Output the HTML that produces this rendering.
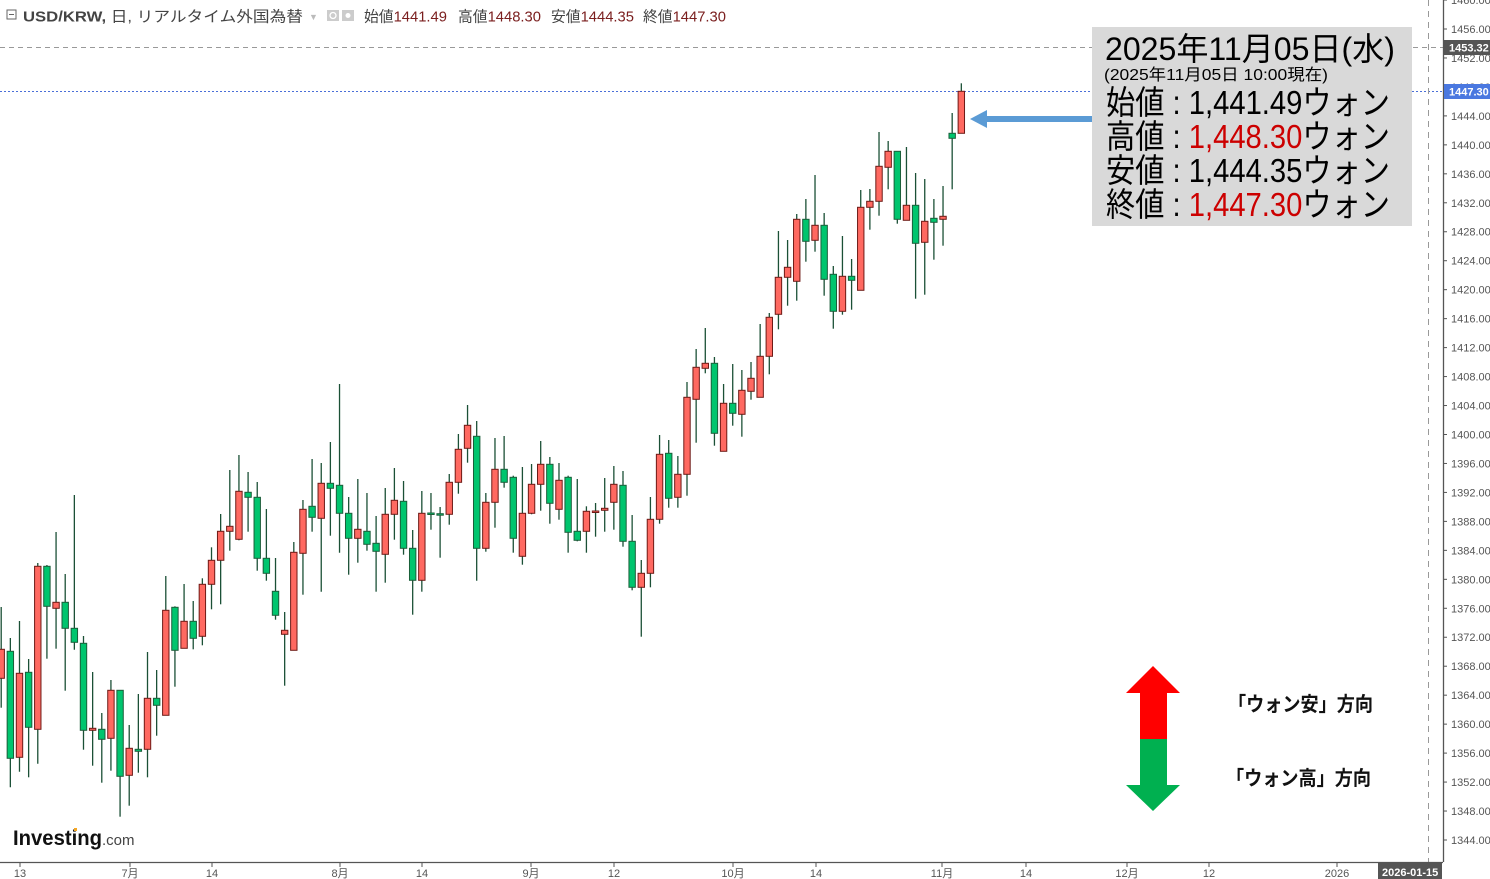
<!DOCTYPE html>
<html><head><meta charset="utf-8">
<style>
html,body{margin:0;padding:0;background:#fff;}
svg{display:block;}
text{font-family:"Liberation Sans","Noto Sans CJK JP",sans-serif;}
</style></head>
<body>
<svg id="s" width="1490" height="879" viewBox="0 0 1490 879" xmlns="http://www.w3.org/2000/svg">
<rect width="1490" height="879" fill="#fff"/>
<line x1="0" y1="47.5" x2="1443" y2="47.5" stroke="#999" stroke-dasharray="5,4" stroke-width="1"/>
<line x1="0" y1="91.5" x2="1443" y2="91.5" stroke="#4a6fd8" stroke-dasharray="2,2" stroke-width="1"/>
<line x1="1428.5" y1="0" x2="1428.5" y2="862" stroke="#999" stroke-dasharray="6,5" stroke-width="1"/>
<g id="candles"></g>
<line x1="1443.5" y1="0" x2="1443.5" y2="862" stroke="#555" stroke-width="1.3"/>
<line x1="0" y1="862.5" x2="1443" y2="862.5" stroke="#555" stroke-width="1.3"/>
<g id="yax" font-size="11" fill="#555"></g>
<g id="xax" font-size="11" fill="#555"></g>
<rect x="1444" y="40" width="46" height="15" fill="#555"/>
<text x="1449" y="51.5" font-size="11" fill="#fff" font-weight="bold">1453.32</text>
<rect x="1444" y="84" width="46" height="15" fill="#4a78e0"/>
<text x="1449" y="95.5" font-size="11" fill="#fff" font-weight="bold">1447.30</text>
<rect x="1378" y="863" width="64" height="16" fill="#555"/>
<text x="1382" y="876" font-size="11" fill="#fff" font-weight="bold">2026-01-15</text>
<!-- header -->
<rect x="7" y="10" width="9" height="9" fill="none" stroke="#666" stroke-width="1"/>
<line x1="9" y1="14.5" x2="14" y2="14.5" stroke="#666"/>
<text x="23" y="21.5" font-size="15" fill="#444" textLength="280" lengthAdjust="spacingAndGlyphs"><tspan font-weight="bold">USD/KRW,</tspan> 日, リアルタイム外国為替</text>
<text x="309" y="20" font-size="9" fill="#bbb">▼</text>
<rect x="327" y="10" width="12" height="11" fill="#ccc"/><circle cx="333" cy="15.5" r="3" fill="none" stroke="#fff" stroke-width="1.3"/>
<rect x="342" y="10" width="12" height="11" fill="#ccc"/><circle cx="348" cy="15.5" r="2.5" fill="#fff"/>
<g font-size="15" fill="#444">
<text x="364" y="21.5" textLength="83" lengthAdjust="spacingAndGlyphs">始値<tspan fill="#7a1e1e">1441.49</tspan></text>
<text x="458" y="21.5" textLength="83" lengthAdjust="spacingAndGlyphs">高値<tspan fill="#7a1e1e">1448.30</tspan></text>
<text x="551" y="21.5" textLength="83" lengthAdjust="spacingAndGlyphs">安値<tspan fill="#7a1e1e">1444.35</tspan></text>
<text x="643" y="21.5" textLength="83" lengthAdjust="spacingAndGlyphs">終値<tspan fill="#7a1e1e">1447.30</tspan></text>
</g>
<!-- logo -->
<text x="13" y="845" font-size="21" font-weight="bold" fill="#111" textLength="89" lengthAdjust="spacingAndGlyphs">Investing</text>
<text x="102" y="845" font-size="15" fill="#444">.com</text>
<rect x="74" y="828" width="3" height="3" fill="#f5a623"/>
<!-- annotation box -->
<rect x="1092" y="27" width="320" height="199" fill="#d9d9d9"/>
<text x="1105" y="60" font-size="32" fill="#000" textLength="290" lengthAdjust="spacingAndGlyphs">2025年11月05日(水)</text>
<text x="1104" y="80" font-size="16" fill="#000" textLength="224" lengthAdjust="spacingAndGlyphs">(2025年11月05日 10:00現在)</text>
<text x="1106" y="114" font-size="33" fill="#000" textLength="284" lengthAdjust="spacingAndGlyphs">始値 : 1,441.49ウォン</text>
<text x="1106" y="148" font-size="33" fill="#000" textLength="284" lengthAdjust="spacingAndGlyphs">高値 : <tspan fill="#cc0000">1,448.30</tspan>ウォン</text>
<text x="1106" y="182" font-size="33" fill="#000" textLength="284" lengthAdjust="spacingAndGlyphs">安値 : 1,444.35ウォン</text>
<text x="1106" y="216" font-size="33" fill="#000" textLength="284" lengthAdjust="spacingAndGlyphs">終値 : <tspan fill="#cc0000">1,447.30</tspan>ウォン</text>
<rect x="985" y="116" width="107" height="6" fill="#5b9bd5"/>
<polygon points="970,119 987,110 987,128" fill="#5b9bd5"/>
<polygon points="1153,666 1180,693 1167,693 1167,739 1140,739 1140,693 1126,693" fill="#ff0000"/>
<polygon points="1140,739 1167,739 1167,785 1180,785 1153,811 1126,785 1140,785" fill="#00b050"/>
<text x="1228" y="711" font-size="20" font-weight="bold" fill="#111" textLength="145" lengthAdjust="spacingAndGlyphs">「ウォン安」方向</text>
<text x="1226" y="785" font-size="20" font-weight="bold" fill="#111" textLength="145" lengthAdjust="spacingAndGlyphs">「ウォン高」方向</text>
</svg>
<script>
var NS="http://www.w3.org/2000/svg";
function el(p,t,a,txt){var e=document.createElementNS(NS,t);for(var k in a)e.setAttribute(k,a[k]);if(txt!=null)e.textContent=txt;p.appendChild(e);return e;}
var D=[
['r',649.3,678.3,607,707.7],['g',651.3,758.3,638,787.3],['r',673.3,757.3,621,771.7],['g',672.3,727.3,659,777.3],
['r',566.3,729.3,563,763.7],['g',566.3,606.3,565,658.7],['r',602.3,608.3,532,648.7],['g',602.3,628.3,574,690.7],
['g',628.3,642.3,495,649.7],['g',643.3,730.3,636,749.7],['r',728.3,730.3,672,765.7],['g',729.3,739.3,713,782.7],
['r',690.3,738.3,680,770.7],['g',690.3,776.3,690.3,816.7],['r',748.3,775.3,725,805.7],['g',749.3,751.3,694,772.7],
['r',698.3,749.3,652,777.3],['g',698.3,705.3,670,735.7],['r',610.3,715.3,576,715.3],['g',607.3,650.3,606.3,686.7],
['r',621.3,648.3,584,648.3],['g',621.3,638.3,601,649.3],['r',584.3,636.3,578.3,645.3],['r',560.3,584.3,547.3,609.3],
['r',531.3,560.3,514,604.3],['r',526.3,531.3,470,550.7],['r',491.3,539.3,455,540.3],['g',492.3,497.3,472,531.7],
['g',497.3,558.3,482,570.7],['g',558.3,573.3,509,580.7],['g',591.3,615.3,558,619.7],['r',630.3,634.3,612,685.7],
['r',552.3,650.3,542,650.3],['r',509.3,553.3,500,594.7],['g',506.3,517.3,459,531.7],['r',483.3,518.3,463,591.7],
['g',483.3,488.3,442,535.7],['g',485.3,513.3,384,552.7],['g',513.3,538.3,497,574.7],['r',529.3,538.3,479,562.7],
['g',531.3,544.3,493,550.7],['g',543.3,551.3,516,591.7],['r',514.3,554.3,488,582.7],['r',500.3,514.3,468,539.7],
['g',501.3,548.3,481,554.7],['g',548.3,580.3,530,614.7],['r',513.3,580.3,491,591.7],['g',513,514,493,529.7],
['g',513.7,514.5,507,557.7],['r',482.3,514.3,474,524.7],['r',449.3,482.3,434,493.7],['r',425.3,448.3,405,462.7],
['g',436.3,548.3,421,580.7],['r',502.3,548.3,493,551.7],['r',469.3,502.3,438,527.7],['g',469.3,482.3,436,487.7],
['g',477.3,538.3,475.7,552.7],['r',513.3,556.3,467,564.7],['r',484.3,513.3,464,514.3],['r',464.3,484.3,441,510.7],
['g',464.3,503.3,457,523.7],['r',480.3,509.3,463,519.7],['g',477.3,532.3,475.7,552.7],['g',531.3,540.3,479,541.3],
['r',511.3,531.3,506.3,552.7],['r',511,512,503,536.7],['r',508.3,510.3,478,531.7],['r',484.3,502.3,466,529.7],
['g',485.3,541.3,471,546.7],['g',541.3,587.3,515,590.3],['r',573.3,587.3,560,636.7],['r',519.3,573.3,497,587.3],
['r',454.3,519.3,435,523.7],['g',453.3,498.3,440,507.7],['r',474.3,497.3,456,507.7],['r',397.3,474.3,382,495.7],
['r',367.3,399.3,349,442.7],['r',363.3,368.3,328,373.3],['g',363.3,433.3,357,445.7],['r',403.3,451.3,384,451.3],
['g',403.3,413.3,364,425.7],['r',390.3,414.3,370,436.7],['r',378.3,391.3,362,399.7],['r',356.3,397.3,324,397.3],
['r',317.3,356.3,313,374.3],['r',277.3,314.3,231,329.3],['r',267.3,277.3,240,305.7],['r',219.3,281.3,214,300.7],
['g',219.3,241.3,199,261.7],['r',225.3,240.3,175,251.7],['g',225.3,279.3,213,295.7],['g',274.3,311.3,266,328.7],
['r',276.3,311.3,236,314.7],['g',276.3,280.3,259,309.7],['r',207.3,290.3,190,290.3],['r',201.3,207.3,189,229.7],
['r',166.3,201.3,132,215.7],['r',151.3,167.3,141,189.3],['g',151.3,219.3,151.3,223.7],['r',205.3,220.3,147,220.3],
['g',205.3,243.3,173,298.7],['r',221.3,242.3,179,294.7],['g',218.3,222.3,199,259.7],['r',216.3,219.3,186,245.7],
['g',133.3,138.3,113,189.3],['r',91.3,133.3,83.3,133.3]
];
var g=document.getElementById('candles');
D.forEach(function(c,i){
 var x=1.2+i*9.144;
 el(g,'line',{x1:x,x2:x,y1:c[3],y2:c[4],stroke:'#1b5036','stroke-width':1.3});
 var h=Math.max(c[2]-c[1],1.5);
 el(g,'rect',{x:x-3.2,y:c[1],width:6.4,height:h,fill:c[0]=='r'?'#ff6961':'#00c56e',stroke:c[0]=='r'?'#6e1a16':'#1b5e3a','stroke-width':1});
});
var y=document.getElementById('yax');
for(var p=1460;p>=1344;p-=4){var yy=29+(1456-p)*7.241;
 el(y,'line',{x1:1443,x2:1447,y1:yy,y2:yy,stroke:'#555'});
 el(y,'text',{x:1451,y:yy+4},p.toFixed(2));}
var xa=document.getElementById('xax');
[[20,'13'],[130,'7月'],[212,'14'],[340,'8月'],[422,'14'],[531,'9月'],[614,'12'],[733,'10月'],[816,'14'],[942,'11月'],[1026,'14'],[1127,'12月'],[1209,'12'],[1337,'2026']].forEach(function(a){
 el(xa,'line',{x1:a[0],x2:a[0],y1:862,y2:867,stroke:'#555'});
 el(xa,'text',{x:a[0],y:877,'text-anchor':'middle'},a[1]);});
</script>
</body></html>
